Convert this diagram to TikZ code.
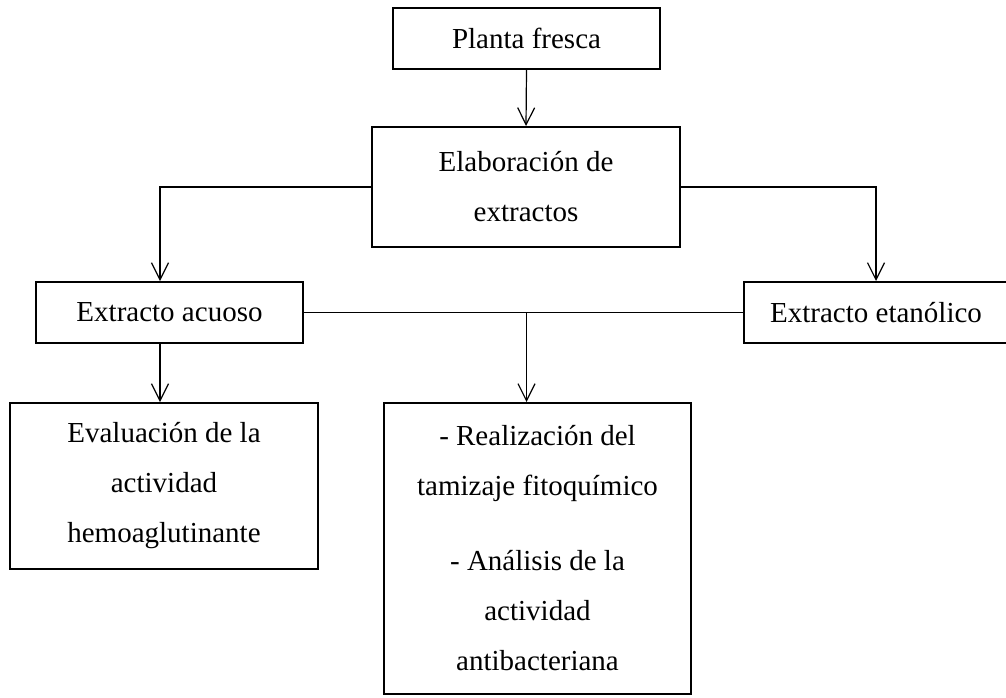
\documentclass[tikz,border=0pt]{standalone}
\usepackage{fontspec}
\setmainfont{Liberation Serif}
\usetikzlibrary{arrows.meta}
\begin{document}
\begin{tikzpicture}[x=0.5pt,y=-0.5pt,
  caja/.style={draw,line width=1pt,inner sep=0pt,align=center,font=\fontsize{14.5}{25}\selectfont},
  linea/.style={line width=0.6pt},
  flecha/.style={linea,-{Straight Barb[length=8.5pt,width=8.5pt]}}]
  \useasboundingbox (0,0) rectangle (1006,697);

       \node[caja,minimum width=133.5pt,minimum height=30.5pt] (planta) at (526.5,38.5) {Planta fresca};
       \node[caja,minimum width=154pt,minimum height=60pt] (elab) at (526,187) {Elaboración de\\extractos};
       \node[caja,minimum width=133.5pt,minimum height=30.5pt] (acuoso) at (169.5,312.5) {Extracto acuoso};
       \node[caja,minimum width=132pt,minimum height=30.5pt] (etanol) at (876,312.5) {Extracto etanólico};
       \node[caja,minimum width=154pt,minimum height=83pt] (eval) at (164,486) {Evaluación de la\\actividad\\hemoaglutinante};
       \node[caja,minimum width=153.5pt,minimum height=145.5pt] (analisis) at (537.5,548.5) {- Realización del\\tamizaje fitoquímico\\[12.5pt]- Análisis de la\\actividad\\antibacteriana};

       \coordinate (ejeA) at (160,0);

       \draw[flecha] (planta.south) -- (elab.north);
       \draw[flecha] (elab.west) -| (acuoso.north -| ejeA);
       \draw[flecha] (elab.east) -| (etanol.north);
       \draw[flecha] (acuoso.south -| ejeA) -- (eval.north -| ejeA);
       \draw[linea] (acuoso.east) -- (etanol.west);
       \draw[flecha] (acuoso.east -| planta.south) -- (analisis.north -| planta.south);
\end{tikzpicture}
\end{document}
